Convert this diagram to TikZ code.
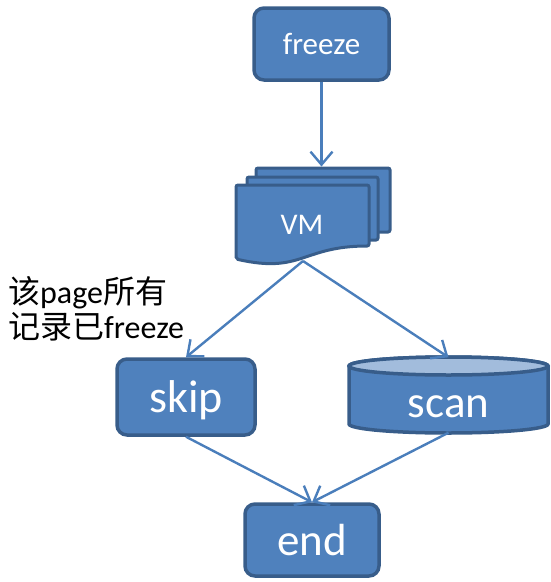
\documentclass[tikz,border=0pt]{standalone}
\usepackage{fontspec}
\setmainfont{Carlito}
\newfontfamily\cjk{Noto Sans CJK SC}
\usetikzlibrary{arrows.meta}

\definecolor{boxfill}{HTML}{4F81BD}
\definecolor{boxline}{HTML}{385D8A}
\definecolor{arrowblue}{HTML}{4A7EBB}
\definecolor{topfill}{HTML}{A2BCDC}

\tikzset{
  box/.style={draw=boxline, fill=boxfill, line width=3.5pt, rounded corners=10pt,
    text=white, font=\fontsize{45}{45}\selectfont},
  page/.style={draw=boxline, fill=boxfill, line width=3pt, rounded corners=2pt},
  flow/.style={draw=arrowblue, line width=2.4pt, -{Straight Barb[length=13pt,width=22pt]}}
}

\begin{document}
\begin{tikzpicture}[x=1pt, y=-1pt]
    \useasboundingbox (0,0) rectangle (550,582);

    % top box
    \node[box, minimum width=135pt, minimum height=72pt, font=\fontsize{31}{31}\selectfont]
        (freeze) at (321.5,44) {freeze};

    % the VM pages, two behind and one in front with a wavy bottom
    \node[page, minimum width=134pt, minimum height=64pt] (vmback) at (323,200) {};
    \node[page, minimum width=131pt, minimum height=63pt] (vmmid) at (312.5,208.5) {};
    \draw[page] (236,259) -- (236,185) -- (369,185) -- (369,246)
        .. controls (302,246) and (302,274) .. (236,259) -- cycle;
    \node[text=white, font=\fontsize{30}{30}\selectfont] (vm) at (302,225) {VM};
    \coordinate (vmbot) at (303,261);

    % left box
    \node[box, minimum width=138pt, minimum height=76pt, text depth=0pt,
        font=\fontsize{46}{46}\selectfont] (skip) at (186,397) {skip};

    % cylinder for scan
    \filldraw[draw=boxline, fill=boxfill, line width=3.5pt]
        (349,366) -- (349,424) arc[start angle=180, end angle=360, x radius=99.5pt, y radius=9pt]
        -- (548,366) arc[start angle=0, end angle=180, x radius=99.5pt, y radius=9pt] -- cycle;
    \filldraw[draw=boxline, fill=topfill, line width=3.5pt]
        (448.5,366) ellipse[x radius=99.5pt, y radius=9pt];
    \node[minimum width=199pt, minimum height=75pt, text height=44pt, text depth=0pt,
        text=white, font=\fontsize{45}{45}\selectfont] (scan) at (448.5,395) {scan};

    % bottom box
    \node[box, minimum width=134pt, minimum height=72pt] (end) at (312,540) {end};

    % note on the left
    \node[align=left, anchor=north west, inner sep=0pt, font=\fontsize{32}{35}\selectfont]
        (note) at (8,276) {{\cjk 该}page{\cjk 所有}\\{\cjk 记录已}freeze};

    % arrows
    \draw[flow] (freeze.south) -- (freeze.south |- vmback.north);
    \draw[flow] (vmbot) -- (skip.north);
    \draw[flow] (vmbot) -- (scan.north);
    \draw[flow] (skip.south) -- (end.north);
    \draw[flow] (scan.south) -- (end.north);

\end{tikzpicture}
\end{document}
